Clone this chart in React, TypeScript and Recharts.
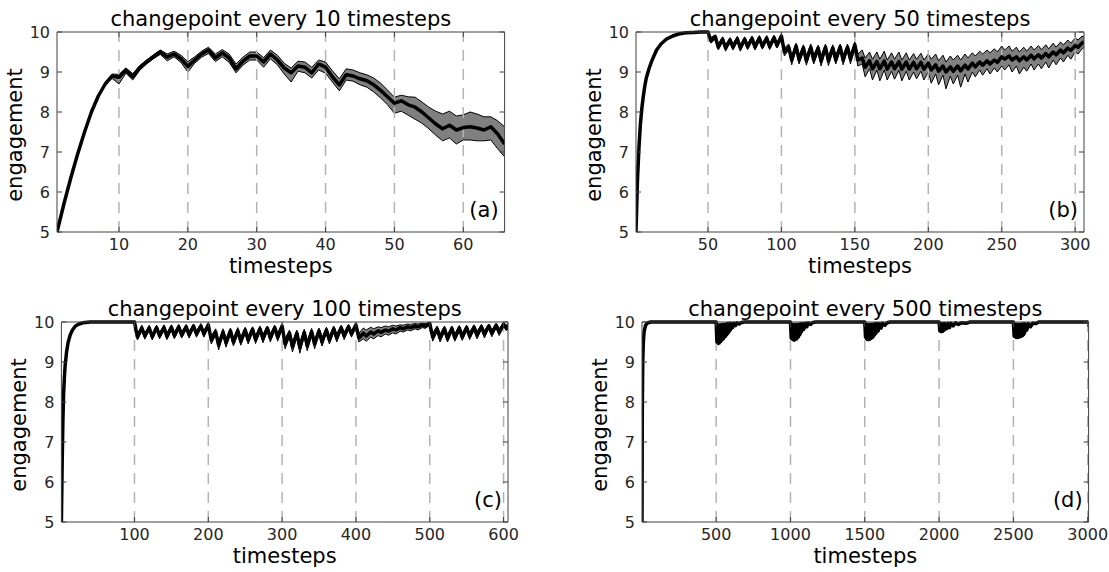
import React from "react";
import { ComposedChart, Area, Line, XAxis, YAxis, ReferenceLine } from "recharts";

const FONT = "DejaVu Sans, Verdana, sans-serif";
const AXIS = "#404040";
const TICK_TEXT = "#262626";

const yTicks = [5, 6, 7, 8, 9, 10];

// (a) changepoint every 10 timesteps: one value per timestep, t = 1..66
const aMean = [
  5.0, 5.7, 6.35, 6.95, 7.5, 8.0, 8.4, 8.7, 8.9, 8.87,
  9.05, 8.88, 9.1, 9.25, 9.38, 9.5, 9.37, 9.45, 9.33, 9.14,
  9.3, 9.45, 9.55, 9.35, 9.48, 9.35, 9.08, 9.27, 9.4, 9.4,
  9.25, 9.45, 9.3, 9.1, 8.98, 9.15, 9.12, 8.98, 9.2, 9.12,
  8.88, 8.68, 8.93, 8.9, 8.83, 8.78, 8.68, 8.54, 8.38, 8.22,
  8.28, 8.18, 8.12, 8.0, 7.85, 7.7, 7.58, 7.67, 7.55, 7.61,
  7.63, 7.6, 7.55, 7.63, 7.45, 7.2,
];
const aLo = [
  5.0, 5.7, 6.35, 6.95, 7.5, 8.0, 8.4, 8.7, 8.84, 8.7,
  8.97, 8.8, 9.04, 9.2, 9.33, 9.44, 9.28, 9.38, 9.24, 9.0,
  9.22, 9.37, 9.46, 9.26, 9.38, 9.24, 8.98, 9.17, 9.3, 9.3,
  9.12, 9.33, 9.18, 8.95, 8.75, 9.02, 8.98, 8.85, 9.05, 8.97,
  8.75, 8.53, 8.8, 8.77, 8.68, 8.62, 8.5, 8.35, 8.18, 7.97,
  8.02, 7.92, 7.82, 7.72, 7.58, 7.42, 7.28, 7.35, 7.2, 7.3,
  7.3, 7.28, 7.28, 7.3, 7.08, 6.88,
];
const aHi = [
  5.0, 5.7, 6.35, 6.95, 7.5, 8.0, 8.4, 8.7, 8.95, 8.94,
  9.1, 8.96, 9.16, 9.3, 9.43, 9.55, 9.45, 9.52, 9.42, 9.26,
  9.38, 9.52, 9.62, 9.45, 9.56, 9.45, 9.2, 9.37, 9.5, 9.5,
  9.36, 9.55, 9.42, 9.22, 9.1, 9.27, 9.25, 9.12, 9.3, 9.25,
  9.03, 8.83, 9.08, 9.05, 8.98, 8.93, 8.85, 8.72, 8.55, 8.37,
  8.42, 8.38, 8.37, 8.25, 8.12, 8.02, 7.95, 8.02, 7.9, 7.93,
  8.0, 7.95, 7.88, 7.88, 7.78, 7.63,
];
const aTicks = [10, 20, 30, 40, 50, 60];
const aChangepoints = [10, 20, 30, 40, 50, 60];

// (b) changepoint every 50 timesteps
const bT = [
  1, 2, 3, 4, 5, 6, 7, 8, 10, 12, 15, 18, 22, 26, 30, 35, 40, 45, 50,
  52, 55, 57, 60, 62, 65, 67, 70, 72, 75, 77, 80, 82, 85, 87, 90, 92, 95, 97, 100,
  102, 105, 107, 110, 112, 115, 117, 120, 122, 125, 127, 130, 132, 135, 137, 140, 142, 145, 147, 150,
  152, 155, 157, 160, 162, 165, 167, 170, 172, 175, 177, 180, 182, 185, 187, 190, 192, 195, 197, 200,
  202, 205, 207, 210, 212, 215, 217, 220, 222, 225, 227, 230, 232, 235, 237, 240, 242, 245, 247, 250,
  252, 255, 257, 260, 262, 265, 267, 270, 272, 275, 277, 280, 282, 285, 287, 290, 292, 295, 297, 300, 302, 304, 306,
];
const bMean = [
  5, 6.3, 7.1, 7.7, 8.1, 8.4, 8.65, 8.85, 9.1, 9.3, 9.55, 9.7, 9.83, 9.9, 9.95, 9.98, 9.99, 10, 10,
  9.78, 9.88, 9.62, 9.82, 9.6, 9.8, 9.62, 9.83, 9.6, 9.82, 9.63, 9.84, 9.62, 9.85, 9.64, 9.85, 9.63, 9.86, 9.66, 9.9,
  9.5, 9.62, 9.3, 9.65, 9.3, 9.6, 9.28, 9.62, 9.3, 9.6, 9.27, 9.62, 9.28, 9.6, 9.3, 9.63, 9.3, 9.62, 9.32, 9.68,
  9.3, 9.35, 9.12, 9.28, 9.08, 9.26, 9.08, 9.27, 9.07, 9.25, 9.08, 9.26, 9.07, 9.25, 9.07, 9.24, 9.08, 9.24, 9.07, 9.22,
  9.05, 9.18, 9.02, 9.15, 9.0, 9.13, 9.02, 9.15, 9.03, 9.17, 9.08, 9.22, 9.13, 9.25, 9.17, 9.28, 9.2, 9.3, 9.24, 9.38,
  9.32, 9.4, 9.3, 9.38, 9.28, 9.38, 9.3, 9.42, 9.33, 9.43, 9.35, 9.46, 9.38, 9.5, 9.43, 9.55, 9.48, 9.6, 9.54, 9.66, 9.62, 9.7, 9.76,
];
const bLo = [
  5, 6.3, 7.1, 7.7, 8.1, 8.4, 8.65, 8.85, 9.1, 9.3, 9.55, 9.7, 9.83, 9.9, 9.95, 9.98, 9.99, 10, 10,
  9.72, 9.82, 9.55, 9.76, 9.52, 9.74, 9.55, 9.77, 9.52, 9.76, 9.56, 9.78, 9.55, 9.79, 9.57, 9.79, 9.56, 9.8, 9.6, 9.85,
  9.4, 9.55, 9.18, 9.58, 9.2, 9.52, 9.17, 9.55, 9.2, 9.52, 9.15, 9.55, 9.16, 9.52, 9.2, 9.55, 9.18, 9.55, 9.2, 9.62,
  9.15, 9.2, 8.88, 9.08, 8.8, 9.05, 8.78, 9.05, 8.8, 9.02, 8.82, 9.04, 8.78, 9.02, 8.8, 9.0, 8.83, 9.02, 8.8, 9.0,
  8.72, 8.95, 8.68, 8.92, 8.58, 8.9, 8.7, 8.92, 8.62, 8.95, 8.75, 9.0, 8.88, 9.05, 8.92, 9.08, 8.95, 9.1, 9.0, 9.15,
  9.05, 9.18, 9.0, 9.15, 8.95, 9.12, 9.02, 9.2, 9.05, 9.2, 9.08, 9.25, 9.1, 9.3, 9.18, 9.35, 9.25, 9.42, 9.32, 9.5, 9.45, 9.55, 9.62,
];
const bHi = [
  5, 6.3, 7.1, 7.7, 8.1, 8.4, 8.65, 8.85, 9.1, 9.3, 9.55, 9.7, 9.83, 9.9, 9.95, 9.98, 9.99, 10, 10,
  9.86, 9.93, 9.7, 9.88, 9.68, 9.86, 9.7, 9.89, 9.68, 9.88, 9.7, 9.9, 9.7, 9.91, 9.71, 9.91, 9.7, 9.92, 9.73, 9.95,
  9.6, 9.7, 9.4, 9.72, 9.42, 9.68, 9.4, 9.7, 9.42, 9.67, 9.4, 9.7, 9.4, 9.68, 9.42, 9.7, 9.42, 9.7, 9.45, 9.75,
  9.45, 9.55, 9.35, 9.5, 9.32, 9.5, 9.32, 9.52, 9.3, 9.48, 9.32, 9.5, 9.3, 9.48, 9.3, 9.46, 9.32, 9.47, 9.3, 9.45,
  9.32, 9.45, 9.28, 9.42, 9.25, 9.4, 9.3, 9.42, 9.3, 9.45, 9.35, 9.48, 9.4, 9.52, 9.45, 9.55, 9.48, 9.58, 9.5, 9.65,
  9.55, 9.65, 9.52, 9.62, 9.5, 9.62, 9.52, 9.65, 9.55, 9.66, 9.56, 9.68, 9.58, 9.72, 9.62, 9.75, 9.68, 9.8, 9.72, 9.85, 9.8, 9.88, 9.9,
];
const bTicks = [50, 100, 150, 200, 250, 300];
const bChangepoints = [50, 100, 150, 200, 250, 300];

// (c) changepoint every 100 timesteps
const cT = [
  1, 2, 3, 4, 5, 6, 8, 10, 13, 16, 20, 25, 30, 40, 70,
  100, 104, 110, 114, 120, 124, 130, 134, 140, 144,
  150, 154, 160, 164, 170, 174, 180, 184, 190, 194,
  200, 204, 210, 214, 220, 224, 230, 234, 240, 244,
  250, 254, 260, 264, 270, 274, 280, 284, 290, 294,
  300, 304, 310, 314, 320, 324, 330, 334, 340, 344,
  350, 354, 360, 364, 370, 374, 380, 384, 390, 394,
  400, 404, 410, 414, 420, 424, 430, 434, 440, 444,
  450, 454, 460, 464, 470, 474, 480, 484, 490, 494,
  500, 504, 510, 514, 520, 524, 530, 534, 540, 544,
  550, 554, 560, 564, 570, 574, 580, 584, 590, 594,
  600, 604, 606,
];
const cMean = [
  5, 6.4, 7.5, 8.2, 8.6, 8.9, 9.25, 9.48, 9.68, 9.8, 9.9, 9.95, 9.98, 10, 10,
  10, 9.62, 9.85, 9.65, 9.85, 9.63, 9.86, 9.66, 9.86, 9.64,
  9.87, 9.66, 9.88, 9.67, 9.88, 9.68, 9.9, 9.7, 9.9, 9.7,
  9.93, 9.55, 9.75, 9.42, 9.75, 9.48, 9.78, 9.5, 9.78, 9.52,
  9.8, 9.55, 9.82, 9.56, 9.83, 9.58, 9.85, 9.6, 9.86, 9.62,
  9.9, 9.45, 9.72, 9.38, 9.72, 9.36, 9.74, 9.4, 9.76, 9.45,
  9.78, 9.5, 9.8, 9.55, 9.83, 9.6, 9.86, 9.65, 9.88, 9.7,
  9.93, 9.6, 9.72, 9.65, 9.75, 9.7, 9.78, 9.74, 9.8, 9.77,
  9.83, 9.8, 9.86, 9.83, 9.88, 9.86, 9.9, 9.88, 9.92, 9.9,
  9.96, 9.62, 9.83, 9.6, 9.83, 9.58, 9.84, 9.6, 9.85, 9.62,
  9.86, 9.65, 9.87, 9.67, 9.88, 9.7, 9.9, 9.72, 9.92, 9.75,
  9.94, 9.85, 9.92,
];
const cLo = [
  5, 6.4, 7.5, 8.2, 8.6, 8.9, 9.25, 9.48, 9.68, 9.8, 9.9, 9.95, 9.98, 10, 10,
  9.98, 9.55, 9.8, 9.57, 9.8, 9.55, 9.8, 9.58, 9.8, 9.56,
  9.81, 9.58, 9.82, 9.6, 9.82, 9.6, 9.84, 9.62, 9.85, 9.62,
  9.88, 9.45, 9.68, 9.3, 9.68, 9.37, 9.7, 9.4, 9.7, 9.42,
  9.72, 9.45, 9.75, 9.46, 9.76, 9.48, 9.78, 9.5, 9.8, 9.52,
  9.84, 9.33, 9.63, 9.25, 9.63, 9.22, 9.65, 9.28, 9.68, 9.33,
  9.7, 9.4, 9.73, 9.45, 9.76, 9.5, 9.8, 9.56, 9.82, 9.62,
  9.88, 9.5, 9.58, 9.52, 9.62, 9.58, 9.66, 9.63, 9.7, 9.67,
  9.73, 9.7, 9.77, 9.75, 9.8, 9.78, 9.83, 9.8, 9.86, 9.84,
  9.92, 9.52, 9.76, 9.5, 9.76, 9.5, 9.77, 9.52, 9.78, 9.54,
  9.8, 9.56, 9.8, 9.58, 9.82, 9.6, 9.84, 9.63, 9.86, 9.66,
  9.88, 9.78, 9.86,
];
const cHi = [
  5, 6.4, 7.5, 8.2, 8.6, 8.9, 9.25, 9.48, 9.68, 9.8, 9.9, 9.95, 9.98, 10, 10,
  10, 9.7, 9.92, 9.72, 9.92, 9.7, 9.92, 9.73, 9.93, 9.72,
  9.93, 9.74, 9.94, 9.75, 9.94, 9.76, 9.95, 9.78, 9.96, 9.78,
  9.97, 9.65, 9.83, 9.52, 9.83, 9.58, 9.85, 9.6, 9.86, 9.62,
  9.87, 9.65, 9.88, 9.66, 9.9, 9.68, 9.9, 9.7, 9.92, 9.72,
  9.95, 9.58, 9.8, 9.5, 9.8, 9.48, 9.82, 9.52, 9.84, 9.56,
  9.85, 9.6, 9.87, 9.65, 9.9, 9.7, 9.92, 9.74, 9.94, 9.78,
  9.97, 9.72, 9.85, 9.8, 9.87, 9.83, 9.88, 9.86, 9.9, 9.88,
  9.92, 9.9, 9.93, 9.92, 9.95, 9.94, 9.96, 9.95, 9.97, 9.96,
  9.99, 9.72, 9.9, 9.7, 9.9, 9.68, 9.9, 9.7, 9.91, 9.72,
  9.92, 9.74, 9.93, 9.76, 9.94, 9.78, 9.95, 9.8, 9.96, 9.83,
  9.98, 9.92, 9.97,
];
const cTicks = [100, 200, 300, 400, 500, 600];
const cChangepoints = [100, 200, 300, 400, 500, 600];

// (d) changepoint every 500 timesteps
const dT = [
  1, 3, 6, 10, 15, 25, 40, 60,
  500, 505, 510, 515, 520, 525, 530, 535, 540, 545, 550, 555, 560, 565, 570, 575, 580, 585, 590, 595, 600, 610, 620, 630, 640, 655, 670, 690,
  1000, 1005, 1010, 1015, 1020, 1025, 1030, 1035, 1040, 1045, 1050, 1055, 1060, 1065, 1070, 1075, 1080, 1090, 1100, 1110, 1120, 1135, 1150, 1170,
  1500, 1505, 1510, 1515, 1520, 1525, 1530, 1535, 1540, 1545, 1550, 1555, 1560, 1565, 1570, 1575, 1580, 1590, 1600, 1610, 1620, 1635, 1650, 1670,
  2000, 2005, 2010, 2015, 2020, 2025, 2030, 2035, 2040, 2050, 2060, 2070, 2080, 2095, 2110, 2130, 2150, 2180, 2210,
  2500, 2505, 2510, 2515, 2520, 2525, 2530, 2535, 2540, 2545, 2550, 2555, 2560, 2565, 2570, 2575, 2580, 2590, 2600, 2615, 2630, 2650, 2670,
  3006,
];
const dMean = [
  5, 7.8, 9.0, 9.5, 9.75, 9.92, 9.98, 10,
  10, 9.5, 9.92, 9.47, 9.9, 9.5, 9.9, 9.54, 9.92, 9.58, 9.93, 9.62, 9.94, 9.66, 9.95, 9.7, 9.96, 9.75, 9.96, 9.8, 9.97, 9.86, 9.97, 9.91, 9.98, 9.95, 9.99, 10,
  10, 9.6, 9.93, 9.57, 9.92, 9.56, 9.92, 9.58, 9.93, 9.6, 9.93, 9.64, 9.94, 9.7, 9.95, 9.76, 9.96, 9.82, 9.97, 9.88, 9.98, 9.94, 9.99, 10,
  10, 9.62, 9.93, 9.58, 9.92, 9.57, 9.92, 9.58, 9.93, 9.6, 9.93, 9.63, 9.94, 9.68, 9.95, 9.72, 9.96, 9.78, 9.96, 9.85, 9.97, 9.92, 9.98, 10,
  10, 9.78, 9.96, 9.76, 9.95, 9.77, 9.96, 9.8, 9.96, 9.83, 9.97, 9.86, 9.97, 9.9, 9.98, 9.94, 9.98, 9.97, 10,
  10, 9.65, 9.93, 9.63, 9.93, 9.62, 9.93, 9.63, 9.93, 9.64, 9.94, 9.66, 9.94, 9.68, 9.95, 9.72, 9.95, 9.8, 9.96, 9.88, 9.97, 9.96, 10,
  10,
];
const dLo = [
  5, 7.8, 9.0, 9.5, 9.75, 9.92, 9.98, 10,
  10, 9.45, 9.85, 9.42, 9.82, 9.44, 9.84, 9.48, 9.86, 9.52, 9.87, 9.56, 9.88, 9.6, 9.9, 9.65, 9.9, 9.7, 9.92, 9.76, 9.94, 9.82, 9.95, 9.88, 9.96, 9.93, 9.98, 10,
  10, 9.55, 9.86, 9.52, 9.85, 9.5, 9.86, 9.52, 9.87, 9.54, 9.88, 9.58, 9.89, 9.65, 9.9, 9.72, 9.92, 9.78, 9.94, 9.85, 9.96, 9.92, 9.98, 10,
  10, 9.56, 9.86, 9.52, 9.86, 9.52, 9.86, 9.53, 9.87, 9.55, 9.88, 9.58, 9.89, 9.63, 9.9, 9.68, 9.92, 9.74, 9.93, 9.82, 9.95, 9.9, 9.97, 10,
  10, 9.74, 9.92, 9.72, 9.92, 9.73, 9.92, 9.76, 9.93, 9.8, 9.94, 9.83, 9.95, 9.88, 9.96, 9.92, 9.97, 9.96, 10,
  10, 9.6, 9.87, 9.58, 9.87, 9.57, 9.87, 9.58, 9.88, 9.59, 9.88, 9.6, 9.89, 9.62, 9.9, 9.66, 9.91, 9.76, 9.93, 9.85, 9.95, 9.95, 10,
  10,
];
const dHi = [
  5, 7.8, 9.0, 9.5, 9.75, 9.92, 9.98, 10,
  10, 9.6, 9.98, 9.56, 9.97, 9.6, 9.97, 9.64, 9.98, 9.68, 9.98, 9.72, 9.98, 9.76, 9.99, 9.8, 9.99, 9.84, 9.99, 9.88, 9.99, 9.92, 10, 9.95, 10, 9.98, 10, 10,
  10, 9.68, 9.98, 9.66, 9.98, 9.65, 9.98, 9.67, 9.98, 9.7, 9.98, 9.73, 9.99, 9.78, 9.99, 9.84, 9.99, 9.88, 10, 9.93, 10, 9.97, 10, 10,
  10, 9.7, 9.98, 9.66, 9.98, 9.65, 9.98, 9.67, 9.98, 9.7, 9.98, 9.72, 9.99, 9.76, 9.99, 9.8, 9.99, 9.85, 10, 9.9, 10, 9.95, 10, 10,
  10, 9.84, 9.99, 9.82, 9.99, 9.83, 9.99, 9.86, 9.99, 9.88, 10, 9.9, 10, 9.93, 10, 9.96, 10, 9.99, 10,
  10, 9.72, 9.98, 9.7, 9.98, 9.7, 9.98, 9.71, 9.98, 9.72, 9.98, 9.74, 9.99, 9.76, 9.99, 9.8, 9.99, 9.86, 10, 9.92, 10, 9.98, 10,
  10,
];
const dTicks = [500, 1000, 1500, 2000, 2500, 3000];
const dChangepoints = [500, 1000, 1500, 2000, 2500, 3000];

const titles = [
  "changepoint every 10 timesteps",
  "changepoint every 50 timesteps",
  "changepoint every 100 timesteps",
  "changepoint every 500 timesteps",
];
const letters = ["(a)", "(b)", "(c)", "(d)"];

function rowsOf(t: number[], mean: number[], lo: number[], hi: number[]) {
  return t.map((x, i) => ({ t: x, mean: mean[i], lo: lo[i], hi: hi[i], band: [lo[i], hi[i]] }));
}

const panels = [
  { rows: rowsOf(aMean.map((_, i) => i + 1), aMean, aLo, aHi), domain: [1, 66], ticks: aTicks, cps: aChangepoints, x0: 57, x1: 504.6, y0: 32, y1: 232 },
  { rows: rowsOf(bT, bMean, bLo, bHi), domain: [1, 306], ticks: bTicks, cps: bChangepoints, x0: 636, x1: 1084, y0: 32, y1: 232 },
  { rows: rowsOf(cT, cMean, cLo, cHi), domain: [1, 606], ticks: cTicks, cps: cChangepoints, x0: 61.4, x1: 508, y0: 322, y1: 522 },
  { rows: rowsOf(dT, dMean, dLo, dHi), domain: [1, 3006], ticks: dTicks, cps: dChangepoints, x0: 642, x1: 1088.6, y0: 322, y1: 522 },
];

const W = 1109;
const H = 572;
const Y_AXIS_W = 40;
const X_AXIS_H = 30;

function Panel({ p }: { p: any }) {
  const plotW = p.x1 - p.x0;
  const plotH = p.y1 - p.y0;

  const yTick = (props: any) => {
    const { x, y, payload } = props;
    return (
      <g>
        <line x1={x} x2={x + 5} y1={y} y2={y} stroke={AXIS} />
        <line x1={x + plotW - 5} x2={x + plotW} y1={y} y2={y} stroke={AXIS} />
        <text x={x - 7} y={y + 5.5} textAnchor="end" fontSize={16} fill={TICK_TEXT} fontFamily={FONT}>
          {payload.value}
        </text>
      </g>
    );
  };

  const xTick = (props: any) => {
    const { x, y, payload } = props;
    return (
      <g>
        <line x1={x} x2={x} y1={y} y2={y - 5} stroke={AXIS} />
        <line x1={x} x2={x} y1={y - plotH} y2={y - plotH + 5} stroke={AXIS} />
        <text x={x} y={y + 18} textAnchor="middle" fontSize={16} fill={TICK_TEXT} fontFamily={FONT}>
          {payload.value}
        </text>
      </g>
    );
  };

  return (
    <div style={{ position: "absolute", left: 0, top: 0 }}>
      <ComposedChart
        width={W}
        height={H}
        data={p.rows}
        margin={{ top: p.y0 - 1, left: p.x0 - Y_AXIS_W, right: W - p.x1 - 1, bottom: H - p.y1 - X_AXIS_H }}
      >
        <XAxis
          dataKey="t"
          type="number"
          domain={p.domain}
          allowDataOverflow
          ticks={p.ticks}
          interval={0}
          height={X_AXIS_H}
          tickSize={0}
          tickMargin={0}
          tickLine={false}
          axisLine={{ stroke: AXIS }}
          tick={xTick}
        />
        <XAxis
          xAxisId="top"
          orientation="top"
          type="number"
          domain={p.domain}
          allowDataOverflow
          height={1}
          tick={false}
          tickLine={false}
          axisLine={{ stroke: AXIS }}
        />
        <YAxis
          type="number"
          domain={[5, 10]}
          ticks={yTicks}
          interval={0}
          width={Y_AXIS_W}
          tickSize={0}
          tickMargin={0}
          tickLine={false}
          axisLine={{ stroke: AXIS }}
          tick={yTick}
        />
        <YAxis
          yAxisId="right"
          orientation="right"
          type="number"
          domain={[5, 10]}
          width={1}
          tick={false}
          tickLine={false}
          axisLine={{ stroke: AXIS }}
        />
        <Area dataKey="band" type="linear" stroke="none" fill="#808080" fillOpacity={1} isAnimationActive={false} />
        <Line dataKey="lo" type="linear" stroke="#000" strokeWidth={1} dot={false} activeDot={false} isAnimationActive={false} />
        <Line dataKey="hi" type="linear" stroke="#000" strokeWidth={1} dot={false} activeDot={false} isAnimationActive={false} />
        {p.cps.map((c: number) => (
          <ReferenceLine key={c} x={c} stroke="#b3b3b3" strokeWidth={1.5} strokeDasharray="11 8" />
        ))}
        <Line
          dataKey="mean"
          type="linear"
          stroke="#000"
          strokeWidth={3.5}
          strokeLinejoin="round"
          dot={false}
          activeDot={false}
          isAnimationActive={false}
        />
      </ComposedChart>
    </div>
  );
}

export default function App() {
  return (
    <div style={{ position: "absolute", left: 0, top: 0, width: W, height: H, background: "#fff" }}>
      {panels.map((p, i) => (
        <Panel key={i} p={p} />
      ))}
      <svg width={W} height={H} style={{ position: "absolute", left: 0, top: 0, pointerEvents: "none" }}>
        {panels.map((p, i) => {
          const cx = (p.x0 + p.x1) / 2;
          const cy = (p.y0 + p.y1) / 2 + 3;
          return (
            <g key={i} fontFamily={FONT} fill="#000">
              <text x={cx} y={p.y0 - 6} textAnchor="middle" fontSize={21}>
                {titles[i]}
              </text>
              <text x={cx} y={p.y1 + 41} textAnchor="middle" fontSize={21}>
                timesteps
              </text>
              <text
                x={p.x0 - 35}
                y={cy}
                textAnchor="middle"
                fontSize={21}
                transform={`rotate(-90 ${p.x0 - 35} ${cy})`}
              >
                engagement
              </text>
              <text x={p.x1 - 6} y={p.y1 - 15} textAnchor="end" fontSize={21}>
                {letters[i]}
              </text>
            </g>
          );
        })}
      </svg>
    </div>
  );
}
